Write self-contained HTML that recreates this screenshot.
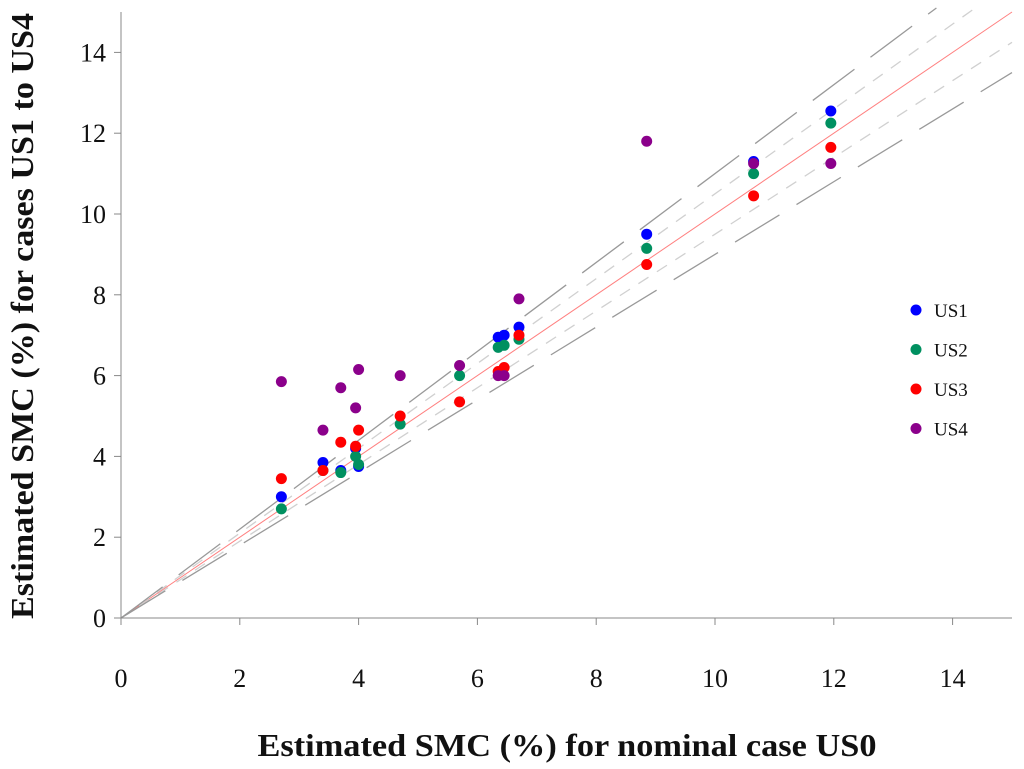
<!DOCTYPE html>
<html><head><meta charset="utf-8"><style>
html,body{margin:0;padding:0;background:#fff;}
svg{display:block;font-family:"Liberation Serif",serif;}
</style></head><body>
<svg id="chart" width="1024" height="769" viewBox="0 0 1024 769" xmlns="http://www.w3.org/2000/svg">
<g id="refs"></g>
<g id="axes"></g>
<g id="pts"></g>
<g id="legend"></g>
<text x="567" y="756" text-anchor="middle" font-size="32" font-weight="bold" fill="#111" textLength="619" lengthAdjust="spacingAndGlyphs">Estimated SMC (%) for nominal case US0</text>
<text transform="translate(33,316) rotate(-90)" text-anchor="middle" font-size="32" font-weight="bold" fill="#111" textLength="606" lengthAdjust="spacingAndGlyphs">Estimated SMC (%) for cases US1 to US4</text>
</svg>
<script>
const xTicks=[0,2,4,6,8,10,12,14];
const yTicks=[0,2,4,6,8,10,12,14];
const nominal=[2.7,3.4,3.7,3.95,4.0,4.7,5.7,6.35,6.45,6.7,8.85,10.65,11.95];
const us1=[3.0,3.85,3.65,4.2,3.75,null,null,6.95,7.0,7.2,9.5,11.3,12.55];
const us2=[2.7,3.65,3.6,4.0,3.8,4.8,6.0,6.7,6.75,6.9,9.15,11.0,12.25];
const us3=[3.45,3.65,4.35,4.25,4.65,5.0,5.35,6.1,6.2,7.0,8.75,10.45,11.65];
const us4=[5.85,4.65,5.7,5.2,6.15,6.0,6.25,6.0,6.0,7.9,11.8,11.25,11.25];
const seriesNames=["US1","US2","US3","US4"];
const seriesColors=["#0000ff","#009060","#ff0000","#8b008b"];
const series=[us1,us2,us3,us4];
const NS="http://www.w3.org/2000/svg";
const X0=121,XS=59.4,Y0=618,YS=40.4,XMAX=15,YMAX=15;
const sx=v=>X0+v*XS, sy=v=>Y0-v*YS;
function mk(tag,attrs,parent){const e=document.createElementNS(NS,tag);for(const k in attrs)e.setAttribute(k,attrs[k]);parent.appendChild(e);return e;}
const refs=document.getElementById('refs');
const lines=[[1,'#ff8080','',1],[1.05,'#d0d0d0','12,10',1.3],[0.95,'#d0d0d0','12,10',1.3],[1.1,'#999','52,20',1.3],[0.9,'#999','52,20',1.3]];
lines.forEach(l=>{const xe=Math.min(15,15.1/l[0]);
const e=mk('line',{x1:sx(0),y1:sy(0),x2:sx(xe),y2:sy(xe*l[0]),stroke:l[1],'stroke-width':l[3],'stroke-dasharray':l[2]},refs);

});
const axes=document.getElementById('axes');
mk('line',{x1:X0,y1:Y0,x2:sx(XMAX),y2:Y0,stroke:'#888','stroke-width':1},axes);
mk('line',{x1:X0,y1:Y0,x2:X0,y2:sy(YMAX),stroke:'#888','stroke-width':1},axes);
xTicks.forEach(t=>{mk('line',{x1:sx(t),y1:Y0,x2:sx(t),y2:Y0+7,stroke:'#888'},axes);
const e=mk('text',{x:sx(t),y:Y0+69,'text-anchor':'middle','font-size':26,fill:'#111'},axes);e.textContent=t;

});
yTicks.forEach(t=>{mk('line',{x1:X0-7,y1:sy(t),x2:X0,y2:sy(t),stroke:'#888'},axes);
const e=mk('text',{x:X0-15,y:sy(t)+9,'text-anchor':'end','font-size':26,fill:'#111'},axes);e.textContent=t;

});
const pts=document.getElementById('pts');
series.forEach((s,i)=>{s.forEach((v,j)=>{if(v==null)return;
const c=mk('circle',{cx:sx(nominal[j]),cy:sy(v),r:5.5,fill:seriesColors[i]},pts);

});});
const lg=document.getElementById('legend');
seriesNames.forEach((n,i)=>{const y=310+i*39.5;
const c=mk('circle',{cx:916,cy:y,r:5.5,fill:seriesColors[i]},lg);


const t=mk('text',{x:934,y:y+7,'font-size':19,fill:'#111'},lg);t.textContent=n;

});
</script>
</body></html>
